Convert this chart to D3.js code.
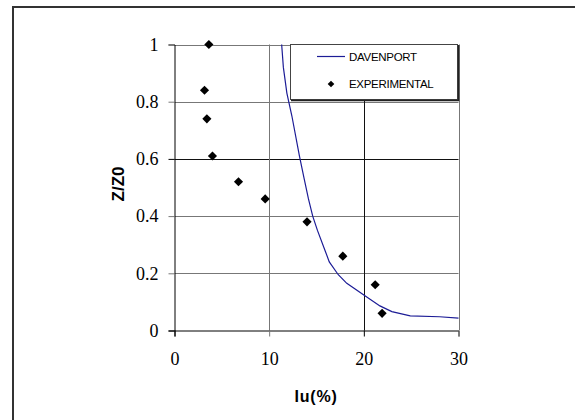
<!DOCTYPE html>
<html>
<head>
<meta charset="utf-8">
<script src="https://cdn.jsdelivr.net/npm/d3@7"></script>
<style>
  body { margin: 0; background: #fff; }
  svg { display: block; }
</style>
</head>
<body>
<script>
// data
const xTicks = [0, 10, 20, 30];
const yTicks = [0, 0.2, 0.4, 0.6, 0.8, 1];
const yTickLabels = ["0", "0.2", "0.4", "0.6", "0.8", "1"];

const davenportIu = [11.32, 11.5, 11.87, 12.4, 13.2, 13.7, 14.15, 14.6, 15.1, 15.9, 16.35, 17.3, 18.2, 20.0, 21.7, 22.96, 24.9, 28.0, 30];
const davenportZ  = [1.0, 0.92, 0.83, 0.75, 0.61, 0.53, 0.46, 0.40, 0.35, 0.28, 0.24, 0.195, 0.165, 0.124, 0.086, 0.066, 0.051, 0.048, 0.043];

const expIu = [3.63, 3.17, 3.42, 4.01, 6.76, 9.58, 14.0, 17.78, 21.2, 21.93];
const expZ  = [1.0, 0.84, 0.74, 0.61, 0.52, 0.46, 0.38, 0.26, 0.16, 0.06];

const seriesNames = ["DAVENPORT", "EXPERIMENTAL"];

/*
 * svg and scales
 */
const svgWidth = 575, svgHeight = 420;
const plot = { left: 174.5, right: 458.5, top: 44.5, bottom: 330.5 };

const svg = d3.select('body').append('svg')
  .attr('width', svgWidth)
  .attr('height', svgHeight);

const xScale = d3.scaleLinear().domain([0, 30]).range([plot.left, plot.right]);
const yScale = d3.scaleLinear().domain([0, 1]).range([plot.bottom, plot.top]);

// outer frame (only left and top edges show)
svg.append('path')
  .attr('d', `M13,${svgHeight} V7 H${svgWidth}`)
  .attr('fill', 'none')
  .attr('stroke', '#333')
  .attr('stroke-width', 2);

/*
 * grid
 */
const darkGrid = [0.6, 20];
const grid = svg.append('g');
grid.selectAll('line.h').data(yTicks.filter(d => d > 0)).enter().append('line')
  .attr('x1', plot.left).attr('x2', plot.right)
  .attr('y1', d => Math.round(yScale(d)) + 0.5)
  .attr('y2', d => Math.round(yScale(d)) + 0.5)
  .attr('stroke', d => darkGrid.includes(d) ? '#111' : '#777');
grid.selectAll('line.v').data(xTicks.filter(d => d > 0)).enter().append('line')
  .attr('y1', plot.top).attr('y2', plot.bottom)
  .attr('x1', d => Math.round(xScale(d)) + 0.5)
  .attr('x2', d => Math.round(xScale(d)) + 0.5)
  .attr('stroke', d => darkGrid.includes(d) ? '#111' : '#777');

/*
 * axes
 */
const yAxis = svg.append('g')
  .attr('transform', `translate(${plot.left},0)`)
  .call(d3.axisLeft(yScale).tickValues(yTicks).tickSize(6).tickPadding(10)
    .tickFormat((d, i) => yTickLabels[i]));

const xAxis = svg.append('g')
  .attr('transform', `translate(0,${plot.bottom})`)
  .call(d3.axisBottom(xScale).tickValues(xTicks).tickSize(6).tickPadding(16));

[xAxis, yAxis].forEach(a => {
  a.select('.domain').attr('stroke', '#000');
  a.selectAll('.tick line').attr('stroke', '#000');
  a.selectAll('.tick text')
    .attr('font-family', '"Liberation Serif", "Times New Roman", serif')
    .attr('font-size', 18)
    .attr('fill', '#000');
});
xAxis.selectAll('.tick line').filter(d => d > 0 && !darkGrid.includes(d)).attr('stroke', '#777');
yAxis.selectAll('.tick line').filter(d => d > 0 && !darkGrid.includes(d)).attr('stroke', '#777');

/*
 * series
 */
svg.append('clipPath').attr('id', 'plot-clip')
  .append('rect')
  .attr('x', plot.left).attr('y', plot.top - 1)
  .attr('width', plot.right - plot.left + 1).attr('height', plot.bottom - plot.top + 1);

const line = d3.line()
  .x((d, i) => xScale(davenportIu[i]))
  .y((d, i) => yScale(davenportZ[i]));

svg.append('path')
  .datum(davenportZ)
  .attr('clip-path', 'url(#plot-clip)')
  .attr('d', line)
  .attr('fill', 'none')
  .attr('stroke', '#1c1c96')
  .attr('stroke-width', 1.2);

const diamond = d3.symbol(d3.symbolSquare, 42);
svg.append('g').selectAll('path').data(expZ).enter().append('path')
  .attr('d', diamond)
  .attr('transform', (d, i) => `translate(${xScale(expIu[i])},${yScale(d)}) rotate(45)`)
  .attr('fill', '#000');

/*
 * legend
 */
const legend = svg.append('g');
legend.append('rect')
  .attr('x', 290.5).attr('y', 44.5)
  .attr('width', 167).attr('height', 55)
  .attr('fill', '#fff')
  .attr('stroke', '#444');
legend.append('path')
  .attr('d', 'M291,100.5 H458.5 V45')
  .attr('fill', 'none')
  .attr('stroke', '#222')
  .attr('stroke-width', 1.5);

legend.append('line')
  .attr('x1', 317).attr('x2', 345)
  .attr('y1', 56.5).attr('y2', 56.5)
  .attr('stroke', '#1c1c96')
  .attr('stroke-width', 1.2);
legend.append('path')
  .attr('d', d3.symbol(d3.symbolSquare, 22))
  .attr('transform', 'translate(331,84) rotate(45)')
  .attr('fill', '#000');

legend.selectAll('text').data(seriesNames).enter().append('text')
  .attr('x', 349)
  .attr('y', (d, i) => i === 0 ? 60.5 : 88)
  .attr('font-family', '"Liberation Sans", Arial, sans-serif')
  .attr('font-size', 11.5)
  .attr('letter-spacing', -0.3)
  .attr('fill', '#000')
  .text(d => d);

/*
 * axis titles
 */
svg.append('text')
  .attr('x', 316)
  .attr('y', 402)
  .attr('text-anchor', 'middle')
  .attr('font-family', '"Liberation Sans", Arial, sans-serif')
  .attr('font-weight', 'bold')
  .attr('font-size', 16)
  .attr('letter-spacing', 0.8)
  .text('Iu(%)');

svg.append('text')
  .attr('transform', 'translate(124,184) rotate(-90)')
  .attr('text-anchor', 'middle')
  .attr('font-family', '"Liberation Sans", Arial, sans-serif')
  .attr('font-weight', 'bold')
  .attr('font-size', 17)
  .text('Z/Z0');
</script>
</body>
</html>
